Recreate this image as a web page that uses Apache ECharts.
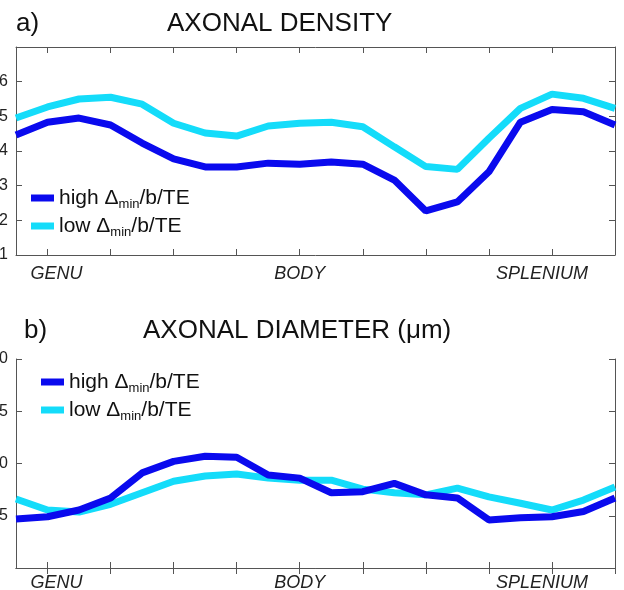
<!DOCTYPE html>
<html>
<head>
<meta charset="utf-8">
<script src="https://cdn.jsdelivr.net/npm/echarts@6/dist/echarts.min.js"></script>
<style>
  html, body { margin: 0; padding: 0; background: #fff; }
  #chart { width: 624px; height: 590px; }
</style>
</head>
<body>
<div id="chart"></div>
<script>
// positions along the callosum (20 segments), landmarks at 1, 9, 17
var segments = ['1','2','3','4','5','6','7','8','9','10','11','12','13','14','15','16','17','18','19','20'];
var landmarkIdx = [1, 9, 17];
var landmarkNames = ['GENU', 'BODY', 'SPLENIUM'];

// a) axonal density
var densityHigh = [4.46, 4.83, 4.95, 4.75, 4.23, 3.77, 3.54, 3.54, 3.65, 3.62,
                   3.68, 3.62, 3.16, 2.27, 2.53, 3.40, 4.83, 5.20, 5.13, 4.75];
var densityLow  = [4.95, 5.27, 5.50, 5.55, 5.35, 4.80, 4.52, 4.43, 4.72, 4.80,
                   4.83, 4.70, 4.12, 3.55, 3.47, 4.37, 5.23, 5.64, 5.52, 5.23];

// b) axonal diameter (um)
var diamHigh = [4.7, 4.9, 5.55, 6.7, 9.1, 10.2, 10.7, 10.6, 8.9, 8.6,
                7.2, 7.3, 8.1, 7.0, 6.7, 4.6, 4.8, 4.9, 5.4, 6.7];
var diamLow  = [6.6, 5.55, 5.35, 6.1, 7.2, 8.3, 8.8, 9.0, 8.6, 8.4,
                8.4, 7.55, 7.2, 7.0, 7.65, 6.8, 6.2, 5.55, 6.5, 7.75];

var nameHigh = 'high';
var nameLow = 'low';
var colHigh = '#0a0aee';
var colLow = '#14dcfa';

var chart = echarts.init(document.getElementById('chart'));

var FONT = 'Liberation Sans, Arial, sans-serif';
var AX = '#555';

// label text is nudged a little, like in the original figure
var lmStyle = { fontSize: 18, fontStyle: 'italic', color: '#222', fontFamily: FONT };
var landmarkRich = {
  l: Object.assign({ padding: [0, 0, 0, 18] }, lmStyle),
  c: Object.assign({}, lmStyle),
  r: Object.assign({ padding: [0, 20, 0, 0] }, lmStyle)
};

function bottomX(gi, labelMargin) {
  return {
    type: 'category', gridIndex: gi, data: segments, boundaryGap: false,
    axisLine: { lineStyle: { color: AX, width: 1 } },
    axisTick: { inside: true, length: 6, lineStyle: { color: AX },
      interval: function (i) { return i % 2 === 1; } },
    axisLabel: {
      interval: function (i) { return landmarkIdx.indexOf(i) >= 0; },
      formatter: function (v, i) {
        var k = landmarkIdx.indexOf(i);
        if (k < 0) return '';
        return '{' + ['l', 'c', 'r'][k] + '|' + landmarkNames[k] + '}';
      },
      margin: labelMargin, fontSize: 18, fontStyle: 'italic', color: '#222', fontFamily: FONT,
      rich: landmarkRich
    },
    splitLine: { show: false }
  };
}
function topX(gi) {
  return {
    type: 'category', gridIndex: gi, data: segments, boundaryGap: false, position: 'top',
    axisLine: { lineStyle: { color: AX, width: 1 } },
    axisTick: { inside: true, length: 6, lineStyle: { color: AX },
      interval: function (i) { return i % 2 === 1; } },
    axisLabel: { show: false }, splitLine: { show: false }
  };
}
function leftY(gi, min, max, step, hideMin, hideMax) {
  return {
    type: 'value', gridIndex: gi, min: min, max: max, interval: step,
    axisLine: { show: true, lineStyle: { color: AX, width: 1 } },
    axisTick: { show: true, inside: true, length: 6, lineStyle: { color: AX } },
    axisLabel: { margin: 8, fontSize: 16, color: '#222', fontFamily: FONT,
      showMinLabel: !hideMin, showMaxLabel: !hideMax },
    splitLine: { show: false }
  };
}
function rightY(gi, min, max, step) {
  return {
    type: 'value', gridIndex: gi, min: min, max: max, interval: step, position: 'right',
    axisLine: { show: true, lineStyle: { color: AX, width: 1 } },
    axisTick: { show: true, inside: true, length: 6, lineStyle: { color: AX } },
    axisLabel: { show: false }, splitLine: { show: false }
  };
}
function line(name, data, color, xi, yi) {
  return {
    name: name, type: 'line', data: data, xAxisIndex: xi, yAxisIndex: yi,
    symbol: 'none', lineStyle: { color: color, width: 7 }, itemStyle: { color: color },
    z: name === nameHigh ? 3 : 2, animation: false
  };
}
function legendFmt(name) {
  return '{t|' + name + ' Δ}{s|min}{t|/b/TE}';
}
var legendText = {
  fontFamily: FONT, color: '#111',
  rich: {
    t: { fontSize: 21, fontFamily: FONT, color: '#111', lineHeight: 26 },
    s: { fontSize: 13, fontFamily: FONT, color: '#111', lineHeight: 26, verticalAlign: 'bottom', padding: [15, 0, 0, 0] }
  }
};
function legend(left, top) {
  return {
    data: [nameHigh, nameLow], orient: 'vertical', left: left, top: top,
    icon: 'rect', itemWidth: 23, itemHeight: 7, itemGap: 0,
    formatter: legendFmt, textStyle: legendText, selectedMode: false
  };
}
var titleStyle = { fontSize: 26, fontWeight: 'normal', color: '#111', fontFamily: FONT };

chart.setOption({
  animation: false,
  title: [
    { text: 'a)', left: 11, top: 6, textStyle: titleStyle },
    { text: 'AXONAL DENSITY', left: 162, top: 6, textStyle: titleStyle },
    { text: 'b)', left: 19, top: 313, textStyle: titleStyle },
    { text: 'AXONAL DIAMETER (μm)', left: 138, top: 313, textStyle: titleStyle }
  ],
  legend: [legend(26, 178), legend(36, 362)],
  grid: [
    { left: 16, right: 9, top: 47, height: 208, outerBoundsMode: 'none', containLabel: false },
    { left: 16, right: 9, top: 359, height: 209, outerBoundsMode: 'none', containLabel: false }
  ],
  xAxis: [bottomX(0, 10), bottomX(1, 6), topX(0), topX(1)],
  yAxis: [leftY(0, 1, 7, 1, false, true), leftY(1, 0, 20, 5, true, false), rightY(0, 1, 7, 1), rightY(1, 0, 20, 5)],
  series: [
    line(nameHigh, densityHigh, colHigh, 0, 0),
    line(nameLow, densityLow, colLow, 0, 0),
    line(nameHigh, diamHigh, colHigh, 1, 1),
    line(nameLow, diamLow, colLow, 1, 1),
    // empty series keep the mirrored top/right axes tied to each grid
    { type: 'line', data: [], xAxisIndex: 2, yAxisIndex: 2 },
    { type: 'line', data: [], xAxisIndex: 3, yAxisIndex: 3 }
  ]
});
</script>
</body>
</html>
